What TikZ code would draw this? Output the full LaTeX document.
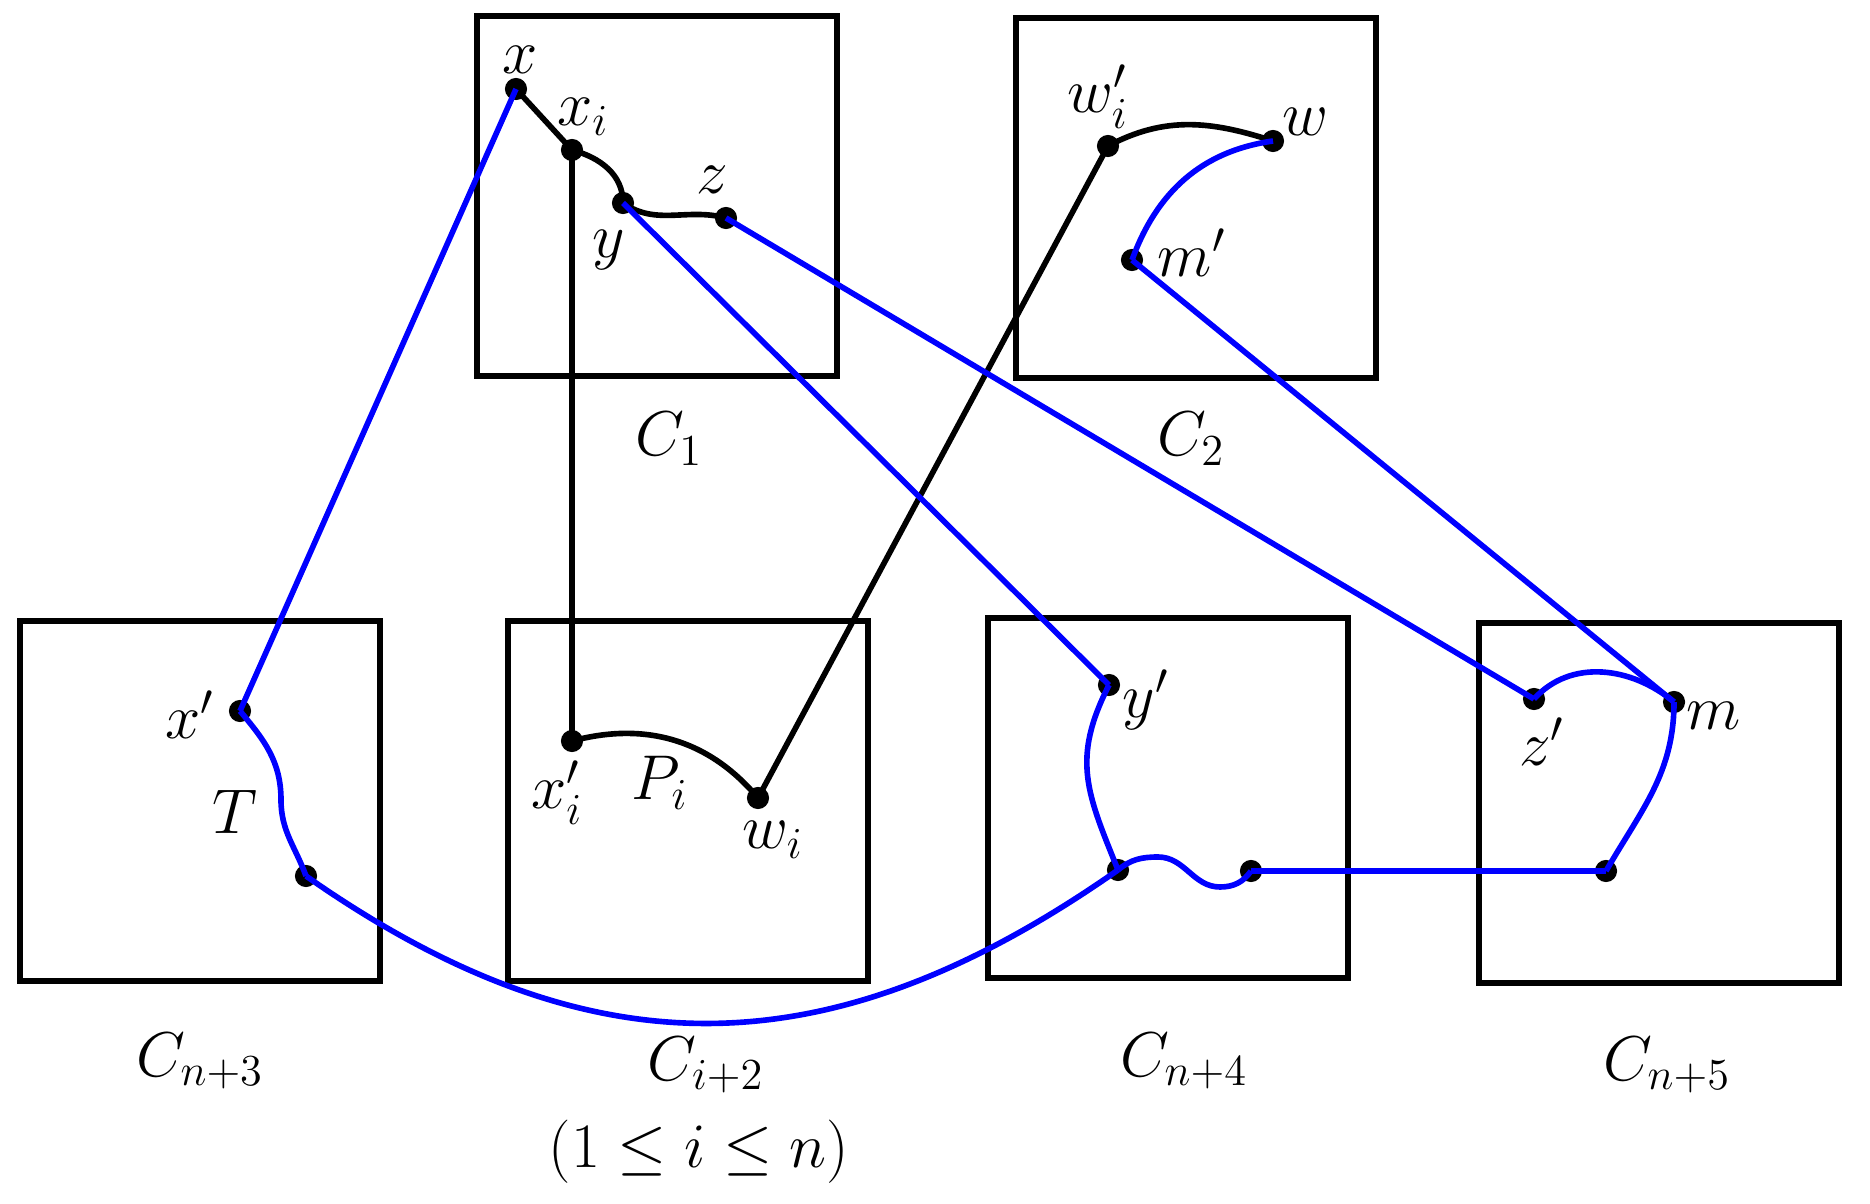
\documentclass[tikz,border=0pt]{standalone}
\usepackage{fix-cm}
\begin{document}
\begin{tikzpicture}[x=0.01cm,y=-0.01cm,
  box/.style={draw,line width=1.5pt,minimum width=3.6cm,minimum height=3.6cm,inner sep=0pt,outer sep=0pt},
  dot/.style={circle,fill=black,inner sep=0pt,minimum size=6.3pt},
  lbl/.style={inner sep=0pt,font=\fontsize{18}{22}\selectfont},
  blk/.style={draw=black,line width=1.6pt},
  blu/.style={draw=blue,line width=1.6pt}]
\useasboundingbox (0,0) rectangle (1870,1204);
% boxes
\node[box] (B1) at (657,196) {};
\node[box] (B2) at (1196,198) {};
\node[box] (B3) at (200,801) {};
\node[box] (B4) at (688,801) {};
\node[box] (B5) at (1168,798) {};
\node[box] (B6) at (1659,803) {};
% box labels
\node[lbl] (lC1) at (669,439) {$C_1$};
\node[lbl] (lC2) at (1191,439) {$C_2$};
\node[lbl] (lC3) at (200,1061) {$C_{n+3}$};
\node[lbl] (lC4) at (706,1065) {$C_{i+2}$};
\node[lbl] (lrng) at (699,1152) {$(1\leq i\leq n)$};
\node[lbl] (lC5) at (1184,1061) {$C_{n+4}$};
\node[lbl] (lC6) at (1667,1065) {$C_{n+5}$};
% dots
\node[dot] (x) at (516,89) {};
\node[dot] (xi) at (572,150) {};
\node[dot] (y) at (623,203) {};
\node[dot] (z) at (726,218) {};
\node[dot] (wip) at (1108,146) {};
\node[dot] (w) at (1273,141) {};
\node[dot] (mp) at (1132,260) {};
\node[dot] (xp) at (240,711) {};
\node[dot] (tb) at (306,876) {};
\node[dot] (xip) at (572,741) {};
\node[dot] (wi) at (758,798) {};
\node[dot] (yp) at (1109,685) {};
\node[dot] (lp) at (1118,870) {};
\node[dot] (rp) at (1251,871) {};
\node[dot] (zp) at (1534,699) {};
\node[dot] (m) at (1674,702) {};
\node[dot] (bp) at (1606,871) {};
% black connectors
\draw[blk] (x.center) -- (xi.center);
\draw[blk] (xi.center) to[out=-15,in=90] (y.center);
\draw[blk] (y.center) to[out=-35,in=165] (z.center);
\draw[blk] (xi.center) -- (xip.center);
\draw[blk] (xip.center) to[out=15,in=130] (wi.center);
\draw[blk] (wi.center) -- (wip.center);
\draw[blk] (wip.center) to[out=28,in=162] (w.center);
% blue connectors
\draw[blu] (w.center) to[out=188,in=70] (mp.center);
\draw[blu] (mp.center) -- (m.center);
\draw[blu] (x.center) -- (xp.center);
\draw[blu] (y.center) -- (yp.center);
\draw[blu] (z.center) -- (zp.center);
\draw[blu] (zp.center) to[out=48,in=140] (m.center);
\draw[blu] (m.center) to[out=-90,in=60] (bp.center);
\draw[blu] (bp.center) -- (rp.center);
\draw[blu] (lp.center) to[out=40,in=180] (1158,857) to[out=0,in=180] (1220,887) to[out=0,in=235] (rp.center);
\draw[blu] (yp.center) to[out=243,in=112,looseness=1.15] (lp.center);
\draw[blu] (lp.center) to[out=215,in=-35,looseness=1.1] (tb.center);
\draw[blu] (xp.center) to[out=-50,in=90] (281,800) to[out=-90,in=110] (tb.center);
% point labels
\node[lbl] (lx) at (520,60) {$x$};
\node[lbl] (lxi) at (583,117) {$x_i$};
\node[lbl] (ly) at (609,250) {$y$};
\node[lbl] (lz) at (712,180) {$z$};
\node[lbl] (lwip) at (1098,97) {$w'_i$};
\node[lbl] (lw) at (1305,122) {$w$};
\node[lbl] (lmp) at (1192,253) {$m'$};
\node[lbl] (lxp) at (190,715) {$x'$};
\node[lbl] (lT) at (235,812) {$T$};
\node[lbl] (lxip) at (557,793) {$x'_i$};
\node[lbl] (lPi) at (660,783) {$P_i$};
\node[lbl] (lwi) at (773,840) {$w_i$};
\node[lbl] (lyp) at (1146,700) {$y'$};
\node[lbl] (lzp) at (1542,742) {$z'$};
\node[lbl] (lm) at (1714,716) {$m$};
\end{tikzpicture}
\end{document}
